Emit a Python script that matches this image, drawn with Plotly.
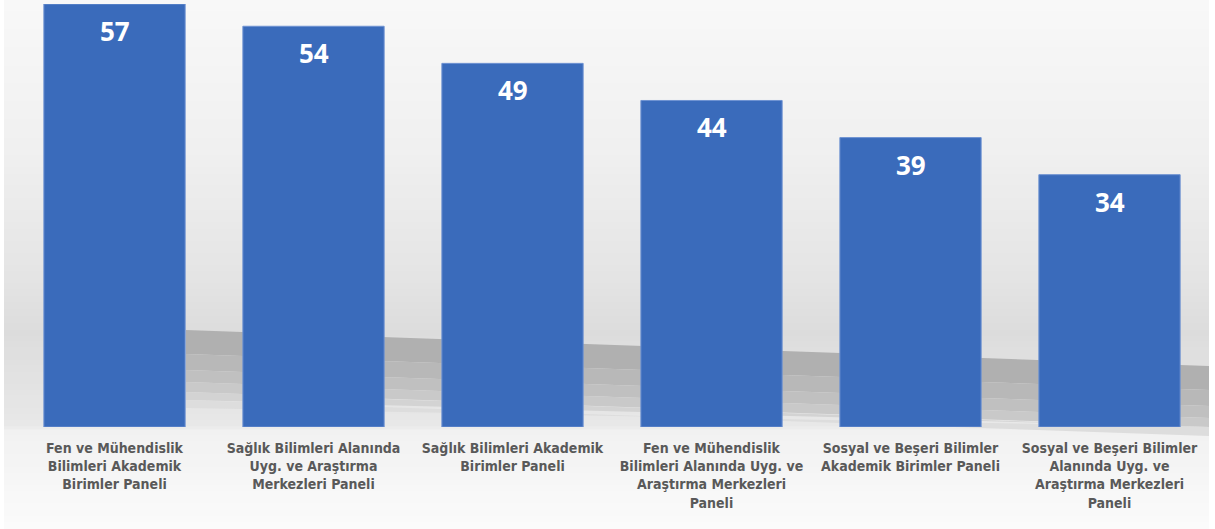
import plotly.graph_objects as go

categories = [
    "Fen ve Mühendislik<br>Bilimleri Akademik<br>Birimler Paneli",
    "Sağlık Bilimleri Alanında<br>Uyg. ve Araştırma<br>Merkezleri Paneli",
    "Sağlık Bilimleri Akademik<br>Birimler Paneli",
    "Fen ve Mühendislik<br>Bilimleri Alanında Uyg. ve<br>Araştırma Merkezleri<br>Paneli",
    "Sosyal ve Beşeri Bilimler<br>Akademik Birimler Paneli",
    "Sosyal ve Beşeri Bilimler<br>Alanında Uyg. ve<br>Araştırma Merkezleri<br>Paneli",
]
values = [57, 54, 49, 44, 39, 34]

W, H = 1215, 529
M_L, M_R, M_T, M_B = 15, 6, 4, 102
PLOT_H = H - M_T - M_B
PLOT_W = W - M_L - M_R


def py(pix):
    return (H - M_B - pix) / PLOT_H


def px(pix):
    return (pix - M_L) / PLOT_W


def hexmix(c1, c2, t):
    a = [int(c1[i:i + 2], 16) for i in (1, 3, 5)]
    b = [int(c2[i:i + 2], 16) for i in (1, 3, 5)]
    return "#" + "".join(f"{round(a[k] + (b[k] - a[k]) * t):02x}" for k in range(3))


fig = go.Figure()
fig.add_trace(go.Bar(
    x=list(range(len(categories))), y=values,
    marker=dict(color="#3a6bbb", line=dict(color="#6f93d2", width=1)),
    width=0.71, hoverinfo="skip",
))

shapes = []
# background vertical gradient (decorative)
stops = [(0, "#f8f8f8"), (150, "#f0f0f0"), (290, "#e3e3e3"), (330, "#dcdcdc"),
         (427, "#e8e8e8"), (430, "#f1f1f1"), (529, "#fbfbfb")]
for (y0, c0), (y1, c1) in zip(stops[:-1], stops[1:]):
    n = max(1, int((y1 - y0) / 6))
    for k in range(n):
        ya = y0 + (y1 - y0) * k / n
        yb = y0 + (y1 - y0) * (k + 1) / n
        shapes.append(dict(type="rect", xref="paper", yref="paper",
                           x0=px(4), x1=px(1209), y0=py(yb), y1=py(ya) + 0.002,
                           fillcolor=hexmix(c0, c1, (k + 0.5) / n),
                           line=dict(width=0), layer="below"))
# floor shadow band (decorative), sloping down to the right, fading downward
XS, XE = 186, 1209
TOP_S, TOP_E = 330, 366
shadow_steps = [(0, 24, "#b0b0b0"), (24, 40, "#b8b8b8"), (40, 52, "#c0c0c0"),
                (52, 62, "#c9c9c9"), (62, 70, "#d3d3d3"), (70, 78, "#dddddd")]
for d0, d1, col in shadow_steps:
    shapes.append(dict(
        type="path", xref="paper", yref="paper", layer="below",
        path=(f"M {px(XS)},{py(TOP_S + d0)} L {px(XE)},{py(TOP_E + d0)} "
              f"L {px(XE)},{py(min(TOP_E + d1, 427))} L {px(XS)},{py(TOP_S + d1)} Z"),
        fillcolor=col, line=dict(width=0)))

annotations = []
for i, v in enumerate(values):
    annotations.append(dict(x=i, y=v, xref="x", yref="y", text=str(v),
                            showarrow=False, yanchor="middle", yshift=-27,
                            font=dict(family="Open Sans, Lato, sans-serif", size=26,
                                      color="white", weight="bold")))

fig.update_layout(
    width=W, height=H,
    margin=dict(l=M_L, r=M_R, t=M_T, b=M_B),
    paper_bgcolor="white", plot_bgcolor="rgba(0,0,0,0)",
    showlegend=False, bargap=0.29,
    shapes=shapes, annotations=annotations,
    xaxis=dict(tickmode="array", tickvals=list(range(len(categories))),
               ticktext=categories, range=[-0.5, len(categories) - 0.5],
               showgrid=False, zeroline=False, showline=False, ticks="",
               ticklabelstandoff=11,
               tickfont=dict(family="Liberation Sans Narrow, DejaVu Sans Condensed, Roboto, sans-serif",
                             size=14, color="#595959", weight="bold")),
    yaxis=dict(range=[0, 57], visible=False, showgrid=False, zeroline=False),
)

fig.write_html("out.html", config={"displayModeBar": False},
               post_script="document.body.style.margin='0';")
